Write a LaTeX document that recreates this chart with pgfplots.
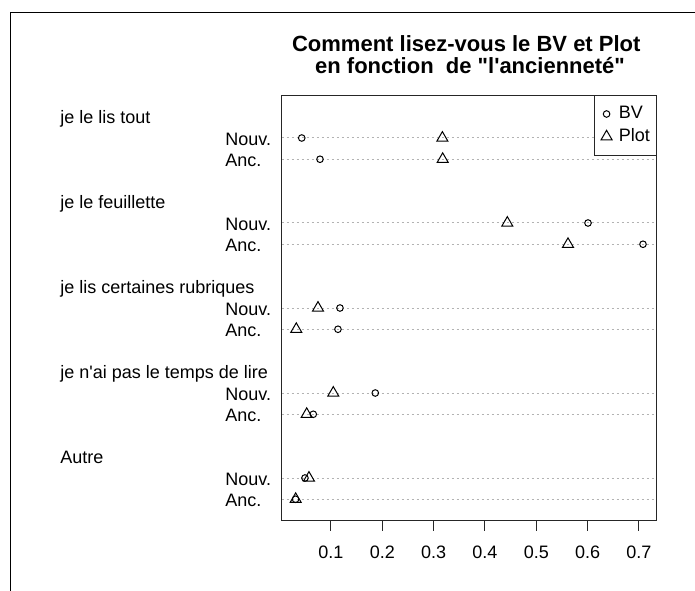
\documentclass[border=0pt]{standalone}
\usepackage{fontspec}
\setmainfont{Liberation Sans}[Ligatures=TeXOff]
\usepackage{pgfplots}
\pgfplotsset{compat=1.18}
\newcommand{\lblfont}{\fontsize{9}{10}\selectfont}
\tikzset{lbl/.style={anchor=base west, font=\lblfont, inner sep=0pt, yshift=-3.6pt}}
\begin{document}
\begin{tikzpicture}
\useasboundingbox (0pt,0pt) rectangle (347.5pt,295pt);
\draw[line width=0.6pt] (5.35pt,-2pt) -- (5.35pt,288.85pt) -- (350pt,288.85pt);
\node[anchor=base,font=\bfseries\fontsize{11}{12}\selectfont] at (233.15pt,269.15pt) {Comment lisez-vous le BV et Plot};
\node[anchor=base,font=\bfseries\fontsize{11}{12}\selectfont] at (235pt,258pt) {en fonction \ de "l'ancienneté"};
\begin{axis}[
  at={(140.85pt,34.75pt)}, anchor=south west,
  scale only axis, width=187.5pt, height=212.5pt,
  xmin=0.004, xmax=0.7345, ymin=0, ymax=20,
  clip=false,
  axis line style={line width=0.5pt, black!85},
  xtick={0.1,0.2,0.3,0.4,0.5,0.6,0.7},
  xticklabels={0.1,0.2,0.3,0.4,0.5,0.6,0.7},
  xtick pos=left, tick align=outside, major tick length=5pt,
  xtick style={line width=0.5pt, black!85},
  ytick={1,2,5,6,9,10,13,14,17,18}, yticklabels={}, ytick style={draw=none},
  ymajorgrids, grid style={black!30, line width=0.5pt, dash pattern=on 1pt off 1.5pt},
  /pgf/number format/assume math mode=true,
  tick label style={font=\lblfont},
  xticklabel style={anchor=base, yshift=-14pt},
  legend style={at={(1,1)}, anchor=north east, draw=black!85, line width=0.5pt, fill=white,
    inner xsep=3.15pt, inner ysep=5.15pt, row sep=3.5pt, font=\lblfont,
    nodes={inner sep=0pt}},
  legend cell align=left,
  legend image code/.code={\path[draw=none] (-2.6pt,0pt) -- (6.15pt,0pt); \draw[#1] plot coordinates {(0pt,0pt)};},
]
\addplot[only marks, mark=o, mark size=1.65pt, mark options={line width=0.5pt, black}] coordinates {
 (0.0430,18) (0.0786,17) (0.6007,14) (0.7078,13) (0.1175,10) (0.1136,9)
 (0.1863,6) (0.0655,5) (0.0493,2) (0.0310,1)};
\addlegendentry{BV}
\addplot[only marks, mark=triangle, mark size=3.2pt, mark options={line width=0.5pt, black}] coordinates {
 (0.3170,18) (0.3176,17) (0.4435,14) (0.5617,13) (0.0747,10) (0.0324,9)
 (0.1045,6) (0.0527,5) (0.0571,2) (0.0312,1)};
\addlegendentry{Plot}
\node[lbl, xshift=-110.85pt] at (axis cs:0.004,19) {je le lis tout};
\node[lbl, xshift=-28.35pt] at (axis cs:0.004,18) {Nouv.};
\node[lbl, xshift=-28.35pt] at (axis cs:0.004,17) {Anc.};
\node[lbl, xshift=-110.85pt] at (axis cs:0.004,15) {je le feuillette};
\node[lbl, xshift=-28.35pt] at (axis cs:0.004,14) {Nouv.};
\node[lbl, xshift=-28.35pt] at (axis cs:0.004,13) {Anc.};
\node[lbl, xshift=-110.85pt] at (axis cs:0.004,11) {je lis certaines rubriques};
\node[lbl, xshift=-28.35pt] at (axis cs:0.004,10) {Nouv.};
\node[lbl, xshift=-28.35pt] at (axis cs:0.004,9) {Anc.};
\node[lbl, xshift=-110.85pt] at (axis cs:0.004,7) {je n'ai pas le temps de lire};
\node[lbl, xshift=-28.35pt] at (axis cs:0.004,6) {Nouv.};
\node[lbl, xshift=-28.35pt] at (axis cs:0.004,5) {Anc.};
\node[lbl, xshift=-110.85pt] at (axis cs:0.004,3) {Autre};
\node[lbl, xshift=-28.35pt] at (axis cs:0.004,2) {Nouv.};
\node[lbl, xshift=-28.35pt] at (axis cs:0.004,1) {Anc.};
\end{axis}
\end{tikzpicture}
\end{document}
